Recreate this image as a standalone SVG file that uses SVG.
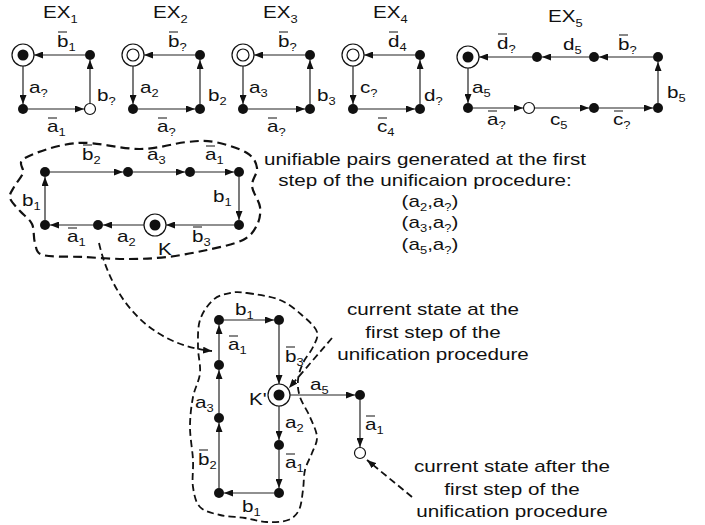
<svg xmlns="http://www.w3.org/2000/svg" width="705" height="525" viewBox="0 0 705 525">
<style>
  text { font-family: "Liberation Sans", Arial, sans-serif; font-size: 16px; fill: #111; }
  text.c { text-anchor: middle; }
  .s { font-size: 10px; }
  .e { fill: none; stroke: #222; stroke-width: 1.2; marker-end: url(#ah); }
  .dash { fill: none; stroke: #111; stroke-width: 1.8; stroke-dasharray: 7 4; }
  .dasha { fill: none; stroke: #111; stroke-width: 1.8; stroke-dasharray: 7 4; marker-end: url(#ah); }
  .blob { fill: none; stroke: #111; stroke-width: 2.2; stroke-dasharray: 9 5; }
  .n { fill: #111; }
  .o { fill: #fff; stroke: #111; stroke-width: 1.2; }
  .ring { fill: none; stroke: #111; stroke-width: 1.2; }
  .bar { fill: none; stroke: #111; stroke-width: 1.2; }
</style>
<defs>
  <marker id="ah" viewBox="0 0 9 7" refX="9" refY="3.5" markerWidth="9" markerHeight="7" markerUnits="userSpaceOnUse" orient="auto">
    <path d="M0 0L9 3.5L0 7z" fill="#111"/>
  </marker>
</defs>

<!-- titles -->
<g id="titles">
  <text transform="translate(43,18) scale(1.29,1)">EX<tspan class="s" dy="5">1</tspan></text>
  <text transform="translate(153,18) scale(1.29,1)">EX<tspan class="s" dy="5">2</tspan></text>
  <text transform="translate(263,18) scale(1.29,1)">EX<tspan class="s" dy="5">3</tspan></text>
  <text transform="translate(373,18) scale(1.29,1)">EX<tspan class="s" dy="5">4</tspan></text>
  <text transform="translate(548,22) scale(1.29,1)">EX<tspan class="s" dy="5">5</tspan></text>
</g>

<!-- dashed regions -->
<g id="regions">
  <path class="blob" d="M25 158 C34 153 57.8 144.5 77 143 S121.7 149.2 140 149 S174.5 143.2 187 142 S205 140.2 215 142 S240 148.7 247 153 S256.2 162.5 257 168 S251.5 179.5 252 186 S259.2 200.5 260 207 S259.8 219.5 257 225 S251.3 235.8 243 240 S219.7 247.2 207 250 S180.3 255.5 167 257 S141 259 127 259 S97 257.7 83 257 S51 257.3 43 255 S36.8 248.2 35 243 S34.5 229.3 32 224 S23.7 215.3 20 211 S11 202 10 198 S11.8 191.2 14 187 S21.2 177.8 23 173 S16 163 25 158 Z"/>
  <path class="dash" d="M247 293 C255.3 294.2 270.7 296.2 280 300 S296.8 310.7 303 316 S315.3 326.8 317 332 S315.3 341.8 313 347 S305.5 357.5 303 363 S298.5 374.3 298 380 S298 390.8 300 397 S307.2 410.3 310 417 S316.7 431 317 437 S314 447.5 312 453 S306.5 463.8 305 470 S304 483.3 303 490 S301.5 505 299 510 S293.3 518 288 520 S274.2 522.3 267 522 S252.8 519.2 245 518 S227.5 516.8 220 515 S204.5 511.7 200 507 S194.2 494.8 193 487 S193.5 470 193 460 S190 437.5 190 427 S191.3 406 193 397 S199.2 381.3 200 373 S198 355.8 198 347 S197.5 327.8 200 320 S208 304.5 213 300 S224.3 294.2 230 293 S238.7 291.8 247 293 Z"/>
</g>

<!-- connectors -->
<g id="connectors">
  <!-- EX1 -->
  <path class="e" d="M85 55H34"/>
  <path class="e" d="M23 66V104"/>
  <path class="e" d="M28 109H84"/>
  <path class="e" d="M90 103V60"/>
  <!-- EX2 -->
  <path class="e" d="M195 55H144"/>
  <path class="e" d="M133 66V104"/>
  <path class="e" d="M138 109H195"/>
  <path class="e" d="M200 104V60"/>
  <!-- EX3 -->
  <path class="e" d="M305 55H254"/>
  <path class="e" d="M243 66V104"/>
  <path class="e" d="M248 109H305"/>
  <path class="e" d="M310 104V60"/>
  <!-- EX4 -->
  <path class="e" d="M415 55H364"/>
  <path class="e" d="M353 66V104"/>
  <path class="e" d="M358 109H415"/>
  <path class="e" d="M420 104V60"/>
  <!-- EX5 -->
  <path class="e" d="M653 57H599"/>
  <path class="e" d="M589 57H542"/>
  <path class="e" d="M532 57H479"/>
  <path class="e" d="M468 68V103"/>
  <path class="e" d="M473 108H523"/>
  <path class="e" d="M535 108H589"/>
  <path class="e" d="M599 108H653"/>
  <path class="e" d="M658 103V62"/>
  <!-- unified graph -->
  <path class="e" d="M45 220V177"/>
  <path class="e" d="M50 172H123"/>
  <path class="e" d="M133 172H185"/>
  <path class="e" d="M195 172H234"/>
  <path class="e" d="M239 177V220"/>
  <path class="e" d="M234 225H166"/>
  <path class="e" d="M144 225H103"/>
  <path class="e" d="M93 225H50"/>
  <!-- state graph -->
  <path class="e" d="M219 488V423"/>
  <path class="e" d="M219 413V370"/>
  <path class="e" d="M219 360V325"/>
  <path class="e" d="M224 320H274"/>
  <path class="e" d="M279 325V384"/>
  <path class="e" d="M279 406V440"/>
  <path class="e" d="M279 450V488"/>
  <path class="e" d="M274 493H224"/>
  <path class="e" d="M290 395H355"/>
  <path class="e" d="M360 400V447"/>
  <!-- dashed pointers -->
  <path class="dasha" d="M99 243C112 300 150 345 212 351"/>
  <path class="dasha" d="M332 338L289 388"/>
  <path class="dasha" d="M412 497L367 460"/>
</g>

<!-- nodes -->
<g id="ex1-nodes">
  <circle class="ring" cx="23" cy="55" r="11"/><circle class="n" cx="23" cy="55" r="5.5"/>
  <circle class="n" cx="90" cy="55" r="5"/>
  <circle class="n" cx="23" cy="109" r="5"/>
  <circle class="o" cx="90" cy="109" r="5.5"/>
</g>
<g id="ex2-nodes">
  <circle class="ring" cx="133" cy="55" r="11"/><circle class="o" cx="133" cy="55" r="6"/>
  <circle class="n" cx="200" cy="55" r="5"/>
  <circle class="n" cx="133" cy="109" r="5"/>
  <circle class="n" cx="200" cy="109" r="5"/>
</g>
<g id="ex3-nodes">
  <circle class="ring" cx="243" cy="55" r="11"/><circle class="o" cx="243" cy="55" r="6"/>
  <circle class="n" cx="310" cy="55" r="5"/>
  <circle class="n" cx="243" cy="109" r="5"/>
  <circle class="n" cx="310" cy="109" r="5"/>
</g>
<g id="ex4-nodes">
  <circle class="ring" cx="353" cy="55" r="11"/><circle class="o" cx="353" cy="55" r="6"/>
  <circle class="n" cx="420" cy="55" r="5"/>
  <circle class="n" cx="353" cy="109" r="5"/>
  <circle class="n" cx="420" cy="109" r="5"/>
</g>
<g id="ex5-nodes">
  <circle class="ring" cx="468" cy="57" r="11"/><circle class="n" cx="468" cy="57" r="5.5"/>
  <circle class="n" cx="537" cy="57" r="5"/>
  <circle class="n" cx="594" cy="57" r="5"/>
  <circle class="n" cx="658" cy="57" r="5"/>
  <circle class="n" cx="468" cy="108" r="5"/>
  <circle class="o" cx="529" cy="108" r="5.5"/>
  <circle class="n" cx="594" cy="108" r="5"/>
  <circle class="n" cx="658" cy="108" r="5"/>
</g>
<g id="unified-nodes">
  <circle class="n" cx="45" cy="172" r="5"/>
  <circle class="n" cx="128" cy="172" r="5"/>
  <circle class="n" cx="190" cy="172" r="5"/>
  <circle class="n" cx="239" cy="172" r="5"/>
  <circle class="n" cx="45" cy="225" r="5"/>
  <circle class="n" cx="98" cy="225" r="5"/>
  <circle class="ring" cx="155" cy="225" r="11"/><circle class="n" cx="155" cy="225" r="5.5"/>
  <circle class="n" cx="239" cy="225" r="5"/>
</g>
<g id="state-nodes">
  <circle class="n" cx="219" cy="320" r="5"/>
  <circle class="n" cx="279" cy="320" r="5"/>
  <circle class="n" cx="219" cy="365" r="5"/>
  <circle class="n" cx="219" cy="418" r="5"/>
  <circle class="n" cx="219" cy="493" r="5"/>
  <circle class="ring" cx="279" cy="395" r="11"/><circle class="n" cx="279" cy="395" r="5.5"/>
  <circle class="n" cx="279" cy="445" r="5"/>
  <circle class="n" cx="279" cy="493" r="5"/>
  <circle class="n" cx="360" cy="395" r="5"/>
  <circle class="o" cx="360" cy="453" r="5.5"/>
</g>

<!-- edge labels -->
<g id="labels">
  <!-- EX1 -->
  <text transform="translate(57,47) scale(1.29,1)">b<tspan class="s" dy="4">1</tspan></text>
  <text transform="translate(29,93) scale(1.29,1)">a<tspan class="s" dy="4">?</tspan></text>
  <text transform="translate(97,101) scale(1.29,1)">b<tspan class="s" dy="4">?</tspan></text>
  <text transform="translate(47,132) scale(1.29,1)">a<tspan class="s" dy="4">1</tspan></text>
  <!-- EX2 -->
  <text transform="translate(168,47) scale(1.29,1)">b<tspan class="s" dy="4">?</tspan></text>
  <text transform="translate(140,93) scale(1.29,1)">a<tspan class="s" dy="4">2</tspan></text>
  <text transform="translate(208,101) scale(1.29,1)">b<tspan class="s" dy="4">2</tspan></text>
  <text transform="translate(157,132) scale(1.29,1)">a<tspan class="s" dy="4">?</tspan></text>
  <!-- EX3 -->
  <text transform="translate(278,47) scale(1.29,1)">b<tspan class="s" dy="4">?</tspan></text>
  <text transform="translate(249,93) scale(1.29,1)">a<tspan class="s" dy="4">3</tspan></text>
  <text transform="translate(317,101) scale(1.29,1)">b<tspan class="s" dy="4">3</tspan></text>
  <text transform="translate(267,132) scale(1.29,1)">a<tspan class="s" dy="4">?</tspan></text>
  <!-- EX4 -->
  <text transform="translate(388,47) scale(1.29,1)">d<tspan class="s" dy="4">4</tspan></text>
  <text transform="translate(360,93) scale(1.29,1)">c<tspan class="s" dy="4">?</tspan></text>
  <text transform="translate(424,101) scale(1.29,1)">d<tspan class="s" dy="4">?</tspan></text>
  <text transform="translate(377,132) scale(1.29,1)">c<tspan class="s" dy="4">4</tspan></text>
  <!-- EX5 -->
  <text transform="translate(497,49) scale(1.29,1)">d<tspan class="s" dy="4">?</tspan></text>
  <text transform="translate(563,50) scale(1.29,1)">d<tspan class="s" dy="4">5</tspan></text>
  <text transform="translate(618,50) scale(1.29,1)">b<tspan class="s" dy="4">?</tspan></text>
  <text transform="translate(472,93) scale(1.29,1)">a<tspan class="s" dy="4">5</tspan></text>
  <text transform="translate(667,98) scale(1.29,1)">b<tspan class="s" dy="4">5</tspan></text>
  <text transform="translate(487,125) scale(1.29,1)">a<tspan class="s" dy="4">?</tspan></text>
  <text transform="translate(550,125) scale(1.29,1)">c<tspan class="s" dy="4">5</tspan></text>
  <text transform="translate(613,125) scale(1.29,1)">c<tspan class="s" dy="4">?</tspan></text>
  <!-- unified graph -->
  <text transform="translate(82,160) scale(1.29,1)">b<tspan class="s" dy="4">2</tspan></text>
  <text transform="translate(147,160) scale(1.29,1)">a<tspan class="s" dy="4">3</tspan></text>
  <text transform="translate(205,160) scale(1.29,1)">a<tspan class="s" dy="4">1</tspan></text>
  <text transform="translate(22,206) scale(1.29,1)">b<tspan class="s" dy="4">1</tspan></text>
  <text transform="translate(213,202) scale(1.29,1)">b<tspan class="s" dy="4">1</tspan></text>
  <text transform="translate(192,242) scale(1.29,1)">b<tspan class="s" dy="4">3</tspan></text>
  <text transform="translate(117,242) scale(1.29,1)">a<tspan class="s" dy="4">2</tspan></text>
  <text transform="translate(67,242) scale(1.29,1)">a<tspan class="s" dy="4">1</tspan></text>
  <text transform="translate(158,255) scale(1.29,1)">K</text>
  <!-- state graph -->
  <text transform="translate(235,315) scale(1.29,1)">b<tspan class="s" dy="4">1</tspan></text>
  <text transform="translate(228,350) scale(1.29,1)">a<tspan class="s" dy="4">1</tspan></text>
  <text transform="translate(285,362) scale(1.29,1)">b<tspan class="s" dy="4">3</tspan></text>
  <text transform="translate(195,408) scale(1.29,1)">a<tspan class="s" dy="4">3</tspan></text>
  <text transform="translate(249,405) scale(1.29,1)">K'</text>
  <text transform="translate(310,390) scale(1.29,1)">a<tspan class="s" dy="4">5</tspan></text>
  <text transform="translate(285,428) scale(1.29,1)">a<tspan class="s" dy="4">2</tspan></text>
  <text transform="translate(285,468) scale(1.29,1)">a<tspan class="s" dy="4">1</tspan></text>
  <text transform="translate(365,430) scale(1.29,1)">a<tspan class="s" dy="4">1</tspan></text>
  <text transform="translate(198,465) scale(1.29,1)">b<tspan class="s" dy="4">2</tspan></text>
  <text transform="translate(242,512) scale(1.29,1)">b<tspan class="s" dy="4">1</tspan></text>
  <!-- overbars of complemented symbols -->
  <path class="bar" d="M58 32h9M48 118h9M169 32h9M158 118h9M279 32h9M268 118h9M389 32h9M378 118h9M498 34h9M619 35h9M488 111h9M614 111h9M83 145h9M206 146h9M193 227h9M68 228h9M229 336h9M286 347h9M286 454h9M366 416h9M199 450h9"/>
</g>

<!-- annotations -->
<g id="notes">
  <text class="c" transform="translate(425,165) scale(1.29,1)">unifiable pairs generated at the first</text>
  <text class="c" transform="translate(425,186) scale(1.29,1)">step of the unificaion procedure:</text>
  <text class="c" transform="translate(430,207) scale(1.29,1)">(a<tspan class="s" dy="4">2</tspan><tspan dy="-4">,a</tspan><tspan class="s" dy="4">?</tspan><tspan dy="-4">)</tspan></text>
  <text class="c" transform="translate(430,228) scale(1.29,1)">(a<tspan class="s" dy="4">3</tspan><tspan dy="-4">,a</tspan><tspan class="s" dy="4">?</tspan><tspan dy="-4">)</tspan></text>
  <text class="c" transform="translate(430,250) scale(1.29,1)">(a<tspan class="s" dy="4">5</tspan><tspan dy="-4">,a</tspan><tspan class="s" dy="4">?</tspan><tspan dy="-4">)</tspan></text>
  <text class="c" transform="translate(433,315) scale(1.29,1)">current state at the</text>
  <text class="c" transform="translate(433,338) scale(1.29,1)">first step of the</text>
  <text class="c" transform="translate(433,360) scale(1.29,1)">unification procedure</text>
  <text class="c" transform="translate(512,472) scale(1.29,1)">current state after the</text>
  <text class="c" transform="translate(512,495) scale(1.29,1)">first step of the</text>
  <text class="c" transform="translate(512,517) scale(1.29,1)">unification procedure</text>
</g>
</svg>
